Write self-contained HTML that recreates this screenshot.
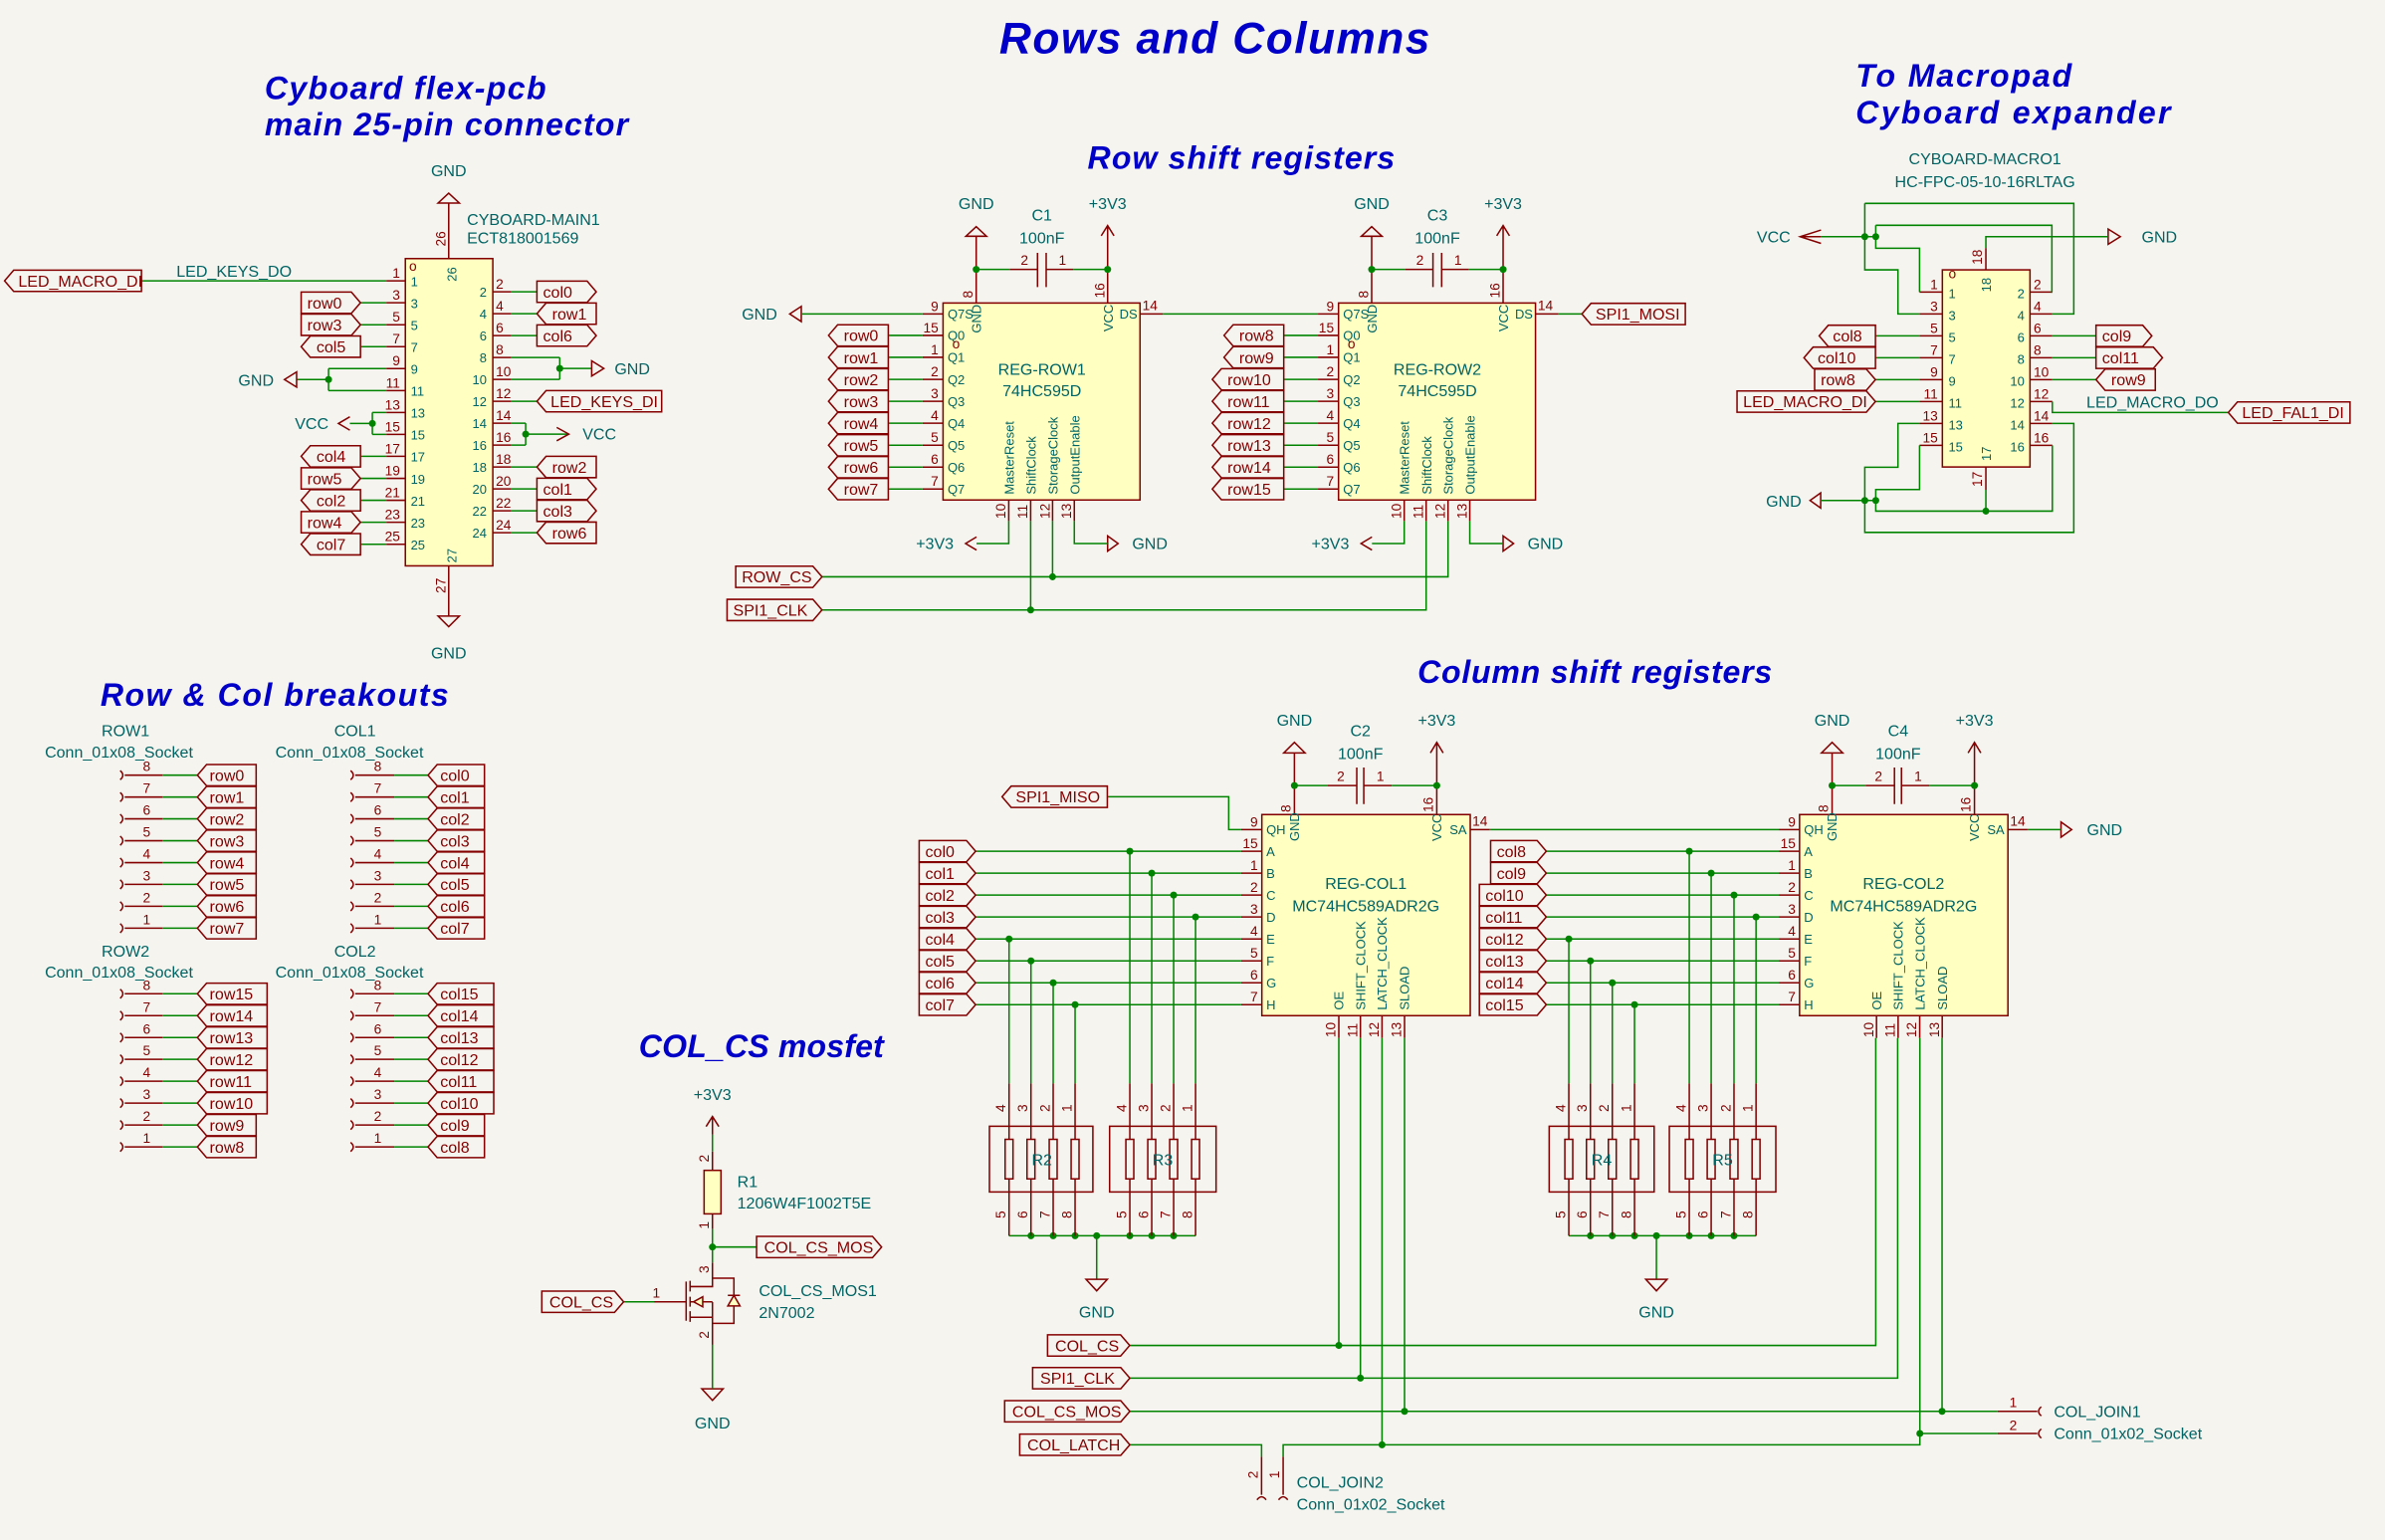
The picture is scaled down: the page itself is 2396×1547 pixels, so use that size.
<!DOCTYPE html>
<html><head><meta charset="utf-8"><style>
html,body{margin:0;padding:0;background:#f5f4ef;}
svg{display:block}
.r{stroke:#840000;fill:none;stroke-width:1}
.w{stroke:#008400;fill:none;stroke-width:1}
.b{fill:#ffffc2;stroke:#840000;stroke-width:1}
.f polygon{fill:none;stroke:#840000;stroke-width:1}
.f text{fill:#840000;font-size:10.5px}
.j{fill:#008400}
text{font-family:"Liberation Sans",sans-serif}
.t{fill:#006464;font-size:10.5px}
.n{fill:#840000;font-size:9px}
.p{fill:#006464;font-size:8.5px}
.h{fill:#0000c8;font-weight:bold;font-style:italic}
</style></head><body>
<svg width="2396" height="1547" viewBox="0 0 1568 1012.4" preserveAspectRatio="none" xmlns="http://www.w3.org/2000/svg">
<rect x="0" y="0" width="1568" height="1013" fill="#f5f4ef"/>

<!-- Titles -->
<text class="h" x="657" y="35" font-size="29" textLength="283">Rows and Columns</text>
<text class="h" x="174" y="65" font-size="21" textLength="185">Cyboard flex-pcb</text>
<text class="h" x="174" y="89" font-size="21" textLength="239">main 25-pin connector</text>
<text class="h" x="715" y="111" font-size="21" textLength="202">Row shift registers</text>
<text class="h" x="1220" y="57" font-size="21" textLength="142">To Macropad</text>
<text class="h" x="1220" y="81" font-size="21" textLength="207">Cyboard expander</text>
<text class="h" x="66" y="464" font-size="21" textLength="229">Row &amp; Col breakouts</text>
<text class="h" x="420" y="695" font-size="21" textLength="161">COL_CS mosfet</text>
<text class="h" x="932" y="449" font-size="21" textLength="233">Column shift registers</text>

<!-- ===== Main connector ===== -->
<rect class="b" x="266.5" y="170" width="57.5" height="202"/>
<text class="t" x="307" y="148">CYBOARD-MAIN1</text>
<text class="t" x="307" y="160">ECT818001569</text>
<text class="n" x="269" y="178" font-size="7">o</text>
<path class="r" d="M288,133.5 H302 L295,127 Z M295,133.5 V170"/>
<text class="t" x="295" y="116" text-anchor="middle">GND</text>
<text class="n" transform="rotate(-90 293 162)" x="293" y="162">26</text>
<text class="p" transform="rotate(-90 300 185)" x="300" y="185">26</text>
<path class="r" d="M295,372 V405 M288,405 H302 L295,412 Z"/>
<text class="t" x="295" y="433" text-anchor="middle">GND</text>
<text class="n" transform="rotate(-90 293 390)" x="293" y="390">27</text>
<text class="p" transform="rotate(-90 300 370)" x="300" y="370">27</text>
<!-- left pins -->
<path class="r" d="M254,184.6H266.5M254,199H266.5M254,213.5H266.5M254,227.9H266.5M254,242.3H266.5M254,256.8H266.5M254,271.2H266.5M254,285.6H266.5M254,300H266.5M254,314.5H266.5M254,328.9H266.5M254,343.3H266.5M254,357.8H266.5"/>
<g class="n" text-anchor="end"><text x="263" y="182.6">1</text><text x="263" y="197">3</text><text x="263" y="211.5">5</text><text x="263" y="225.9">7</text><text x="263" y="240.3">9</text><text x="263" y="254.8">11</text><text x="263" y="269.2">13</text><text x="263" y="283.6">15</text><text x="263" y="298">17</text><text x="263" y="312.5">19</text><text x="263" y="326.9">21</text><text x="263" y="341.3">23</text><text x="263" y="355.8">25</text></g>
<g class="p"><text x="270" y="188">1</text><text x="270" y="202.4">3</text><text x="270" y="216.9">5</text><text x="270" y="231.3">7</text><text x="270" y="245.7">9</text><text x="270" y="260.2">11</text><text x="270" y="274.6">13</text><text x="270" y="289">15</text><text x="270" y="303.4">17</text><text x="270" y="317.9">19</text><text x="270" y="332.3">21</text><text x="270" y="346.7">23</text><text x="270" y="361.2">25</text></g>
<!-- right pins -->
<path class="r" d="M324,191.8H336M324,206.2H336M324,220.6H336M324,235H336M324,249.4H336M324,263.8H336M324,278.2H336M324,292.6H336M324,307H336M324,321.4H336M324,335.8H336M324,350.2H336"/>
<g class="n"><text x="326" y="189.8">2</text><text x="326" y="204.2">4</text><text x="326" y="218.6">6</text><text x="326" y="233">8</text><text x="326" y="247.4">10</text><text x="326" y="261.8">12</text><text x="326" y="276.2">14</text><text x="326" y="290.6">16</text><text x="326" y="305">18</text><text x="326" y="319.4">20</text><text x="326" y="333.8">22</text><text x="326" y="348.2">24</text></g>
<g class="p" text-anchor="end"><text x="320" y="195">2</text><text x="320" y="209.4">4</text><text x="320" y="223.8">6</text><text x="320" y="238.2">8</text><text x="320" y="252.6">10</text><text x="320" y="267">12</text><text x="320" y="281.4">14</text><text x="320" y="295.8">16</text><text x="320" y="310.2">18</text><text x="320" y="324.6">20</text><text x="320" y="339">22</text><text x="320" y="353.4">24</text></g>
<!-- wires main -->
<path class="w" d="M93,184.6H254M237,199H254M237,213.5H254M237,227.9H254M216,242.3H254M216,256.8H254M216,242.3V256.8M195,249.5H216M244.8,271.2H254M244.8,285.6H254M244.8,271.2V285.6M230,278.4H244.8M237,300H254M237,314.5H254M237,328.9H254M237,343.3H254M237,357.8H254
M336,191.8H353M336,206.2H353M336,220.6H353M336,235H368M336,249.4H368M368,235V249.4M368,242.2H389M336,263.8H353M336,278.2H345.6M336,292.6H345.6M345.6,278.2V292.6M345.6,285.4H374M336,307H353M336,321.4H353M336,335.8H353M336,350.2H353"/>
<circle class="j" cx="216" cy="249.5" r="2.3"/><circle class="j" cx="244.8" cy="278.4" r="2.3"/><circle class="j" cx="368" cy="242.2" r="2.3"/><circle class="j" cx="345.6" cy="285.4" r="2.3"/>
<path class="r" d="M187,249.5 L195,244.5 V254.5 Z M230,274 L222.5,278.4 L230,282.8 M397,242.2 L389,237.2 V247.2 Z M366,281 L374,285.4 L366,289.8"/>
<text class="t" x="180" y="253.5" text-anchor="end">GND</text>
<text class="t" x="216" y="282" text-anchor="end">VCC</text>
<text class="t" x="404" y="246">GND</text>
<text class="t" x="383" y="289">VCC</text>
<text class="t" x="116" y="182">LED_KEYS_DO</text>
<g class="f">
<g transform="translate(3,184.6)"><polygon points="0,0 6,-7 90,-7 90,7 6,7"/><text x="9" y="3.8">LED_MACRO_DI</text></g>
<g transform="translate(198,199)"><polygon points="0,-7 33,-7 39,0 33,7 0,7"/><text x="4" y="3.8">row0</text></g>
<g transform="translate(198,213.5)"><polygon points="0,-7 33,-7 39,0 33,7 0,7"/><text x="4" y="3.8">row3</text></g>
<g transform="translate(198,227.9)"><polygon points="0,0 6,-7 39,-7 39,7 6,7"/><text x="10" y="3.8">col5</text></g>
<g transform="translate(198,300)"><polygon points="0,0 6,-7 39,-7 39,7 6,7"/><text x="10" y="3.8">col4</text></g>
<g transform="translate(198,314.5)"><polygon points="0,-7 33,-7 39,0 33,7 0,7"/><text x="4" y="3.8">row5</text></g>
<g transform="translate(198,328.9)"><polygon points="0,0 6,-7 39,-7 39,7 6,7"/><text x="10" y="3.8">col2</text></g>
<g transform="translate(198,343.3)"><polygon points="0,-7 33,-7 39,0 33,7 0,7"/><text x="4" y="3.8">row4</text></g>
<g transform="translate(198,357.8)"><polygon points="0,0 6,-7 39,-7 39,7 6,7"/><text x="10" y="3.8">col7</text></g>
<g transform="translate(353,191.8)"><polygon points="0,-7 33,-7 39,0 33,7 0,7"/><text x="4" y="3.8">col0</text></g>
<g transform="translate(353,206.2)"><polygon points="0,0 6,-7 39,-7 39,7 6,7"/><text x="10" y="3.8">row1</text></g>
<g transform="translate(353,220.6)"><polygon points="0,-7 33,-7 39,0 33,7 0,7"/><text x="4" y="3.8">col6</text></g>
<g transform="translate(353,263.8)"><polygon points="0,0 6,-7 82,-7 82,7 6,7"/><text x="9" y="3.8">LED_KEYS_DI</text></g>
<g transform="translate(353,307)"><polygon points="0,0 6,-7 39,-7 39,7 6,7"/><text x="10" y="3.8">row2</text></g>
<g transform="translate(353,321.4)"><polygon points="0,-7 33,-7 39,0 33,7 0,7"/><text x="4" y="3.8">col1</text></g>
<g transform="translate(353,335.8)"><polygon points="0,-7 33,-7 39,0 33,7 0,7"/><text x="4" y="3.8">col3</text></g>
<g transform="translate(353,350.2)"><polygon points="0,0 6,-7 39,-7 39,7 6,7"/><text x="10" y="3.8">row6</text></g>
</g>

<!-- ===== Row registers ===== -->
<g id="row1">
<rect class="b" x="620" y="199.2" width="129.5" height="129.5"/>
<path class="r" d="M606.5,206.4H620M606.5,220.5H620M606.5,234.9H620M606.5,249.4H620M606.5,263.8H620M606.5,278.2H620M606.5,292.7H620M606.5,307.1H620M606.5,321.5H620
M635,155.3H648.6L641.8,149Z M641.8,155.3V199.2 M724,155L728.2,148.3L732.4,155 M728.2,148.3V199.2 M663.8,177.1H682.1M682.1,166.2V188.7M687.8,166.2V188.7M687.8,177.1H705.7 M749.5,206.4H764.6
M663.2,328.7V342.5M677.6,328.7V342.5M692,328.7V342.5M706.3,328.7V342.5 M642,353L634.8,357.3L642,361.6 M728.2,352.3V362.3L735.1,357.3Z"/>
<path class="w" d="M641.8,177.1H663.8M705.7,177.1H728.2M663.2,342.5V357.3H642M706.3,342.5V357.3H728.2"/>
<circle class="j" cx="641.8" cy="177.1" r="2.3"/><circle class="j" cx="728.2" cy="177.1" r="2.3"/>
<g class="n" text-anchor="end"><text x="617" y="204.4">9</text><text x="617" y="218.5">15</text><text x="617" y="232.9">1</text><text x="617" y="247.4">2</text><text x="617" y="261.8">3</text><text x="617" y="276.2">4</text><text x="617" y="290.7">5</text><text x="617" y="305.1">6</text><text x="617" y="319.5">7</text></g>
<g class="p"><text x="623" y="209.5">Q7S</text><text x="623" y="223.6">Q0</text><text x="623" y="238">Q1</text><text x="623" y="252.5">Q2</text><text x="623" y="266.9">Q3</text><text x="623" y="281.3">Q4</text><text x="623" y="295.8">Q5</text><text x="623" y="310.2">Q6</text><text x="623" y="324.6">Q7</text>
<text x="736" y="209.5">DS</text>
<text transform="rotate(-90 645 219)" x="645" y="219">GND</text>
<text transform="rotate(-90 731.5 218)" x="731.5" y="218">VCC</text>
<text transform="rotate(-90 666.5 325)" x="666.5" y="325">MasterReset</text>
<text transform="rotate(-90 681 325)" x="681" y="325">ShiftClock</text>
<text transform="rotate(-90 695.3 325)" x="695.3" y="325">StorageClock</text>
<text transform="rotate(-90 709.6 325)" x="709.6" y="325">OutputEnable</text></g>
<text class="n" x="626" y="229" font-size="7">o</text>
<g class="n"><text transform="rotate(-90 639.5 196)" x="639.5" y="196">8</text><text transform="rotate(-90 726 196)" x="726" y="196">16</text><text x="751" y="204">14</text><text x="671" y="174">2</text><text x="696" y="174">1</text>
<text transform="rotate(-90 661 341)" x="661" y="341">10</text><text transform="rotate(-90 675.5 341)" x="675.5" y="341">11</text><text transform="rotate(-90 690 341)" x="690" y="341">12</text><text transform="rotate(-90 704.3 341)" x="704.3" y="341">13</text></g>
<text class="t" x="641.8" y="137.5" text-anchor="middle">GND</text>
<text class="t" x="728.2" y="137.5" text-anchor="middle">+3V3</text>
<text class="t" x="685" y="145" text-anchor="middle">C1</text>
<text class="t" x="685" y="160" text-anchor="middle">100nF</text>
<text class="t" x="685" y="246.5" text-anchor="middle">REG-ROW1</text>
<text class="t" x="685" y="260.5" text-anchor="middle">74HC595D</text>
<text class="t" x="627" y="361" text-anchor="end">+3V3</text>
<text class="t" x="744.3" y="361">GND</text>
</g>
<!-- row1 specific -->
<path class="r" d="M519.2,206.4L526.8,201.4V211.4Z"/>
<text class="t" x="511" y="210" text-anchor="end">GND</text>
<path class="w" d="M526.8,206.4H606.5M584,220.5H606.5M584,234.9H606.5M584,249.4H606.5M584,263.8H606.5M584,278.2H606.5M584,292.7H606.5M584,307.1H606.5M584,321.5H606.5
M764.6,206.4H866.5M844,220.5H866.5M844,234.9H866.5M844,249.4H866.5M844,263.8H866.5M844,278.2H866.5M844,292.7H866.5M844,307.1H866.5M844,321.5H866.5
M1024.6,206.4H1040 M540.4,379.2H952V342.5 M540.4,401H937.6V342.5 M692,342.5V379.2 M677.6,342.5V401"/>
<circle class="j" cx="692" cy="379.2" r="2.3"/><circle class="j" cx="677.6" cy="401" r="2.3"/>

<!-- row2 -->
<g transform="translate(260,0)">
<rect class="b" x="620" y="199.2" width="129.5" height="129.5"/>
<path class="r" d="M606.5,206.4H620M606.5,220.5H620M606.5,234.9H620M606.5,249.4H620M606.5,263.8H620M606.5,278.2H620M606.5,292.7H620M606.5,307.1H620M606.5,321.5H620
M635,155.3H648.6L641.8,149Z M641.8,155.3V199.2 M724,155L728.2,148.3L732.4,155 M728.2,148.3V199.2 M663.8,177.1H682.1M682.1,166.2V188.7M687.8,166.2V188.7M687.8,177.1H705.7 M749.5,206.4H764.6
M663.2,328.7V342.5M677.6,328.7V342.5M692,328.7V342.5M706.3,328.7V342.5 M642,353L634.8,357.3L642,361.6 M728.2,352.3V362.3L735.1,357.3Z"/>
<path class="w" d="M641.8,177.1H663.8M705.7,177.1H728.2M663.2,342.5V357.3H642M706.3,342.5V357.3H728.2"/>
<circle class="j" cx="641.8" cy="177.1" r="2.3"/><circle class="j" cx="728.2" cy="177.1" r="2.3"/>
<g class="n" text-anchor="end"><text x="617" y="204.4">9</text><text x="617" y="218.5">15</text><text x="617" y="232.9">1</text><text x="617" y="247.4">2</text><text x="617" y="261.8">3</text><text x="617" y="276.2">4</text><text x="617" y="290.7">5</text><text x="617" y="305.1">6</text><text x="617" y="319.5">7</text></g>
<g class="p"><text x="623" y="209.5">Q7S</text><text x="623" y="223.6">Q0</text><text x="623" y="238">Q1</text><text x="623" y="252.5">Q2</text><text x="623" y="266.9">Q3</text><text x="623" y="281.3">Q4</text><text x="623" y="295.8">Q5</text><text x="623" y="310.2">Q6</text><text x="623" y="324.6">Q7</text>
<text x="736" y="209.5">DS</text>
<text transform="rotate(-90 645 219)" x="645" y="219">GND</text>
<text transform="rotate(-90 731.5 218)" x="731.5" y="218">VCC</text>
<text transform="rotate(-90 666.5 325)" x="666.5" y="325">MasterReset</text>
<text transform="rotate(-90 681 325)" x="681" y="325">ShiftClock</text>
<text transform="rotate(-90 695.3 325)" x="695.3" y="325">StorageClock</text>
<text transform="rotate(-90 709.6 325)" x="709.6" y="325">OutputEnable</text></g>
<text class="n" x="626" y="229" font-size="7">o</text>
<g class="n"><text transform="rotate(-90 639.5 196)" x="639.5" y="196">8</text><text transform="rotate(-90 726 196)" x="726" y="196">16</text><text x="751" y="204">14</text><text x="671" y="174">2</text><text x="696" y="174">1</text>
<text transform="rotate(-90 661 341)" x="661" y="341">10</text><text transform="rotate(-90 675.5 341)" x="675.5" y="341">11</text><text transform="rotate(-90 690 341)" x="690" y="341">12</text><text transform="rotate(-90 704.3 341)" x="704.3" y="341">13</text></g>
<text class="t" x="641.8" y="137.5" text-anchor="middle">GND</text>
<text class="t" x="728.2" y="137.5" text-anchor="middle">+3V3</text>
<text class="t" x="685" y="145" text-anchor="middle">C3</text>
<text class="t" x="685" y="160" text-anchor="middle">100nF</text>
<text class="t" x="685" y="246.5" text-anchor="middle">REG-ROW2</text>
<text class="t" x="685" y="260.5" text-anchor="middle">74HC595D</text>
<text class="t" x="627" y="361" text-anchor="end">+3V3</text>
<text class="t" x="744.3" y="361">GND</text>
</g>
<g class="f">
<g transform="translate(544.7,220.5)"><polygon points="0,0 6,-7 39.3,-7 39.3,7 6,7"/><text x="10" y="3.8">row0</text></g>
<g transform="translate(544.7,234.9)"><polygon points="0,0 6,-7 39.3,-7 39.3,7 6,7"/><text x="10" y="3.8">row1</text></g>
<g transform="translate(544.7,249.4)"><polygon points="0,0 6,-7 39.3,-7 39.3,7 6,7"/><text x="10" y="3.8">row2</text></g>
<g transform="translate(544.7,263.8)"><polygon points="0,0 6,-7 39.3,-7 39.3,7 6,7"/><text x="10" y="3.8">row3</text></g>
<g transform="translate(544.7,278.2)"><polygon points="0,0 6,-7 39.3,-7 39.3,7 6,7"/><text x="10" y="3.8">row4</text></g>
<g transform="translate(544.7,292.7)"><polygon points="0,0 6,-7 39.3,-7 39.3,7 6,7"/><text x="10" y="3.8">row5</text></g>
<g transform="translate(544.7,307.1)"><polygon points="0,0 6,-7 39.3,-7 39.3,7 6,7"/><text x="10" y="3.8">row6</text></g>
<g transform="translate(544.7,321.5)"><polygon points="0,0 6,-7 39.3,-7 39.3,7 6,7"/><text x="10" y="3.8">row7</text></g>
<g transform="translate(804.7,220.5)"><polygon points="0,0 6,-7 39.3,-7 39.3,7 6,7"/><text x="10" y="3.8">row8</text></g>
<g transform="translate(804.7,234.9)"><polygon points="0,0 6,-7 39.3,-7 39.3,7 6,7"/><text x="10" y="3.8">row9</text></g>
<g transform="translate(797,249.4)"><polygon points="0,0 6,-7 47,-7 47,7 6,7"/><text x="10" y="3.8">row10</text></g>
<g transform="translate(797,263.8)"><polygon points="0,0 6,-7 47,-7 47,7 6,7"/><text x="10" y="3.8">row11</text></g>
<g transform="translate(797,278.2)"><polygon points="0,0 6,-7 47,-7 47,7 6,7"/><text x="10" y="3.8">row12</text></g>
<g transform="translate(797,292.7)"><polygon points="0,0 6,-7 47,-7 47,7 6,7"/><text x="10" y="3.8">row13</text></g>
<g transform="translate(797,307.1)"><polygon points="0,0 6,-7 47,-7 47,7 6,7"/><text x="10" y="3.8">row14</text></g>
<g transform="translate(797,321.5)"><polygon points="0,0 6,-7 47,-7 47,7 6,7"/><text x="10" y="3.8">row15</text></g>
<g transform="translate(1040,206.4)"><polygon points="0,0 6,-7 68,-7 68,7 6,7"/><text x="9" y="3.8">SPI1_MOSI</text></g>
<g transform="translate(483.7,379.2)"><polygon points="0,-7 50.7,-7 56.7,0 50.7,7 0,7"/><text x="4" y="3.8">ROW_CS</text></g>
<g transform="translate(478,401)"><polygon points="0,-7 56.4,-7 62.4,0 56.4,7 0,7"/><text x="4" y="3.8">SPI1_CLK</text></g>
</g>

<!-- ===== Macro connector ===== -->
<rect class="b" x="1277" y="177.4" width="57.6" height="129.6"/>
<text class="t" x="1305" y="108" text-anchor="middle">CYBOARD-MACRO1</text>
<text class="t" x="1305" y="123" text-anchor="middle">HC-FPC-05-10-16RLTAG</text>
<path class="r" d="M1262,192H1277M1262,206.4H1277M1262,220.8H1277M1262,235.2H1277M1262,249.6H1277M1262,264H1277M1262,278.4H1277M1262,292.8H1277
M1334.6,192H1349.3M1334.6,206.4H1349.3M1334.6,220.8H1349.3M1334.6,235.2H1349.3M1334.6,249.6H1349.3M1334.6,264H1349.3M1334.6,278.4H1349.3M1334.6,292.8H1349.3
M1305.6,163V177.4M1305.6,307V322 M1197.2,151.2L1183.5,155.6L1197.2,160 M1183.5,155.6H1197.2 M1386,150.6V160.6L1394,155.6Z M1190,329L1197,324V334Z"/>
<path class="w" d="M1197.2,155.6H1233.2 M1226,133.7H1363.4V206.4H1349.3 M1226,133.7V177.4H1247.8V206.4H1262 M1233.2,148.1H1349V192H1349.3 M1233.2,148.1V163.2H1262V192
M1305.6,163V155.6H1386 M1233,220.8H1262M1233,235.2H1262M1233,249.6H1262M1233,264H1262M1349.3,220.8H1378M1349.3,235.2H1378M1349.3,249.6H1378M1349.3,264V271.2H1465
M1197,329H1233.2 M1226,329V307.2H1247.8V278.4H1262 M1233.2,329V321.8H1262V292.8 M1233.2,329V336H1349.3V292.8 M1305.6,322V336 M1226,329V350H1363.4V278.4H1349.3"/>
<circle class="j" cx="1226" cy="155.6" r="2.3"/><circle class="j" cx="1233.2" cy="155.6" r="2.3"/><circle class="j" cx="1226" cy="329" r="2.3"/><circle class="j" cx="1233.2" cy="329" r="2.3"/><circle class="j" cx="1305.6" cy="336" r="2.3"/>
<text class="t" x="1155" y="159.5">VCC</text>
<text class="t" x="1408" y="159.5">GND</text>
<text class="t" x="1161" y="333">GND</text>
<text class="t" x="1371.7" y="268">LED_MACRO_DO</text>
<g class="n" text-anchor="end"><text x="1274" y="190">1</text><text x="1274" y="204.4">3</text><text x="1274" y="218.8">5</text><text x="1274" y="233.2">7</text><text x="1274" y="247.6">9</text><text x="1274" y="262">11</text><text x="1274" y="276.4">13</text><text x="1274" y="290.8">15</text></g>
<g class="n"><text x="1337" y="190">2</text><text x="1337" y="204.4">4</text><text x="1337" y="218.8">6</text><text x="1337" y="233.2">8</text><text x="1337" y="247.6">10</text><text x="1337" y="262">12</text><text x="1337" y="276.4">14</text><text x="1337" y="290.8">16</text>
<text transform="rotate(-90 1303 174)" x="1303" y="174">18</text><text transform="rotate(-90 1303 320)" x="1303" y="320">17</text></g>
<g class="p"><text x="1281" y="196">1</text><text x="1281" y="210.4">3</text><text x="1281" y="224.8">5</text><text x="1281" y="239.2">7</text><text x="1281" y="253.6">9</text><text x="1281" y="268">11</text><text x="1281" y="282.4">13</text><text x="1281" y="296.8">15</text>
<text transform="rotate(-90 1309 192)" x="1309" y="192">18</text><text transform="rotate(-90 1309 303)" x="1309" y="303">17</text></g>
<g class="p" text-anchor="end"><text x="1331" y="196">2</text><text x="1331" y="210.4">4</text><text x="1331" y="224.8">6</text><text x="1331" y="239.2">8</text><text x="1331" y="253.6">10</text><text x="1331" y="268">12</text><text x="1331" y="282.4">14</text><text x="1331" y="296.8">16</text></g>
<text class="n" x="1281" y="183" font-size="7">o</text>
<g class="f">
<g transform="translate(1196,220.8)"><polygon points="0,0 6,-7 37,-7 37,7 6,7"/><text x="9" y="3.8">col8</text></g>
<g transform="translate(1186,235.2)"><polygon points="0,0 6,-7 47,-7 47,7 6,7"/><text x="9" y="3.8">col10</text></g>
<g transform="translate(1193,249.6)"><polygon points="0,-7 34,-7 40,0 34,7 0,7"/><text x="4" y="3.8">row8</text></g>
<g transform="translate(1142,264)"><polygon points="0,-7 85,-7 91,0 85,7 0,7"/><text x="4" y="3.8">LED_MACRO_DI</text></g>
<g transform="translate(1378,220.8)"><polygon points="0,-7 30.7,-7 36.7,0 30.7,7 0,7"/><text x="4" y="3.8">col9</text></g>
<g transform="translate(1378,235.2)"><polygon points="0,-7 37.7,-7 43.7,0 37.7,7 0,7"/><text x="4" y="3.8">col11</text></g>
<g transform="translate(1378,249.6)"><polygon points="0,0 6,-7 39,-7 39,7 6,7"/><text x="10" y="3.8">row9</text></g>
<g transform="translate(1465,271.2)"><polygon points="0,0 6,-7 80,-7 80,7 6,7"/><text x="9" y="3.8">LED_FAL1_DI</text></g>
</g>

<!-- ===== Column registers ===== -->
<g id="col1">
<rect class="b" x="829.6" y="535.5" width="137" height="132.2"/>
<path class="r" d="M816,545.4H829.6M816,559.6H829.6M816,574H829.6M816,588.4H829.6M816,602.8H829.6M816,617.3H829.6M816,631.7H829.6M816,646.1H829.6M816,660.5H829.6
M844,495H858L851,488Z M851,495V535.5 M940.4,495L944.6,488L948.8,495 M944.6,488V535.5 M873,516.4H892M892,504.6V528.6M896.6,504.6V528.6M896.6,516.4H915 M966.6,545.4H979.5
M880.2,667.7V682.4M894.4,667.7V682.4M908.6,667.7V682.4M923.4,667.7V682.4"/>
<path class="w" d="M851,516.4H873M915,516.4H944.6"/>
<circle class="j" cx="851" cy="516.4" r="2.3"/><circle class="j" cx="944.6" cy="516.4" r="2.3"/>
<g class="n" text-anchor="end"><text x="827" y="543.4">9</text><text x="827" y="557.6">15</text><text x="827" y="572">1</text><text x="827" y="586.4">2</text><text x="827" y="600.8">3</text><text x="827" y="615.3">4</text><text x="827" y="629.7">5</text><text x="827" y="644.1">6</text><text x="827" y="658.5">7</text></g>
<g class="p"><text x="832.5" y="548.5">QH</text><text x="832.5" y="562.7">A</text><text x="832.5" y="577.1">B</text><text x="832.5" y="591.5">C</text><text x="832.5" y="605.9">D</text><text x="832.5" y="620.4">E</text><text x="832.5" y="634.8">F</text><text x="832.5" y="649.2">G</text><text x="832.5" y="663.6">H</text>
<text x="953" y="548.5">SA</text>
<text transform="rotate(-90 854 553)" x="854" y="553">GND</text>
<text transform="rotate(-90 947.5 553)" x="947.5" y="553">VCC</text>
<text transform="rotate(-90 883.3 664)" x="883.3" y="664">OE</text>
<text transform="rotate(-90 897.5 664)" x="897.5" y="664">SHIFT_CLOCK</text>
<text transform="rotate(-90 911.7 664)" x="911.7" y="664">LATCH_CLOCK</text>
<text transform="rotate(-90 926.5 664)" x="926.5" y="664">SLOAD</text></g>
<g class="n"><text transform="rotate(-90 848.5 534)" x="848.5" y="534">8</text><text transform="rotate(-90 942 534)" x="942" y="534">16</text><text x="968" y="543">14</text><text x="879" y="513.5">2</text><text x="905" y="513.5">1</text>
<text transform="rotate(-90 878 682)" x="878" y="682">10</text><text transform="rotate(-90 892.2 682)" x="892.2" y="682">11</text><text transform="rotate(-90 906.4 682)" x="906.4" y="682">12</text><text transform="rotate(-90 921.2 682)" x="921.2" y="682">13</text></g>
<text class="t" x="851" y="477" text-anchor="middle">GND</text>
<text class="t" x="944.6" y="477" text-anchor="middle">+3V3</text>
<text class="t" x="894.4" y="484" text-anchor="middle">C2</text>
<text class="t" x="894.4" y="499" text-anchor="middle">100nF</text>
<text class="t" x="898" y="584.5" text-anchor="middle">REG-COL1</text>
<text class="t" x="898" y="599" text-anchor="middle">MC74HC589ADR2G</text>
</g>
<g transform="translate(353.5,0)">
<rect class="b" x="829.6" y="535.5" width="137" height="132.2"/>
<path class="r" d="M816,545.4H829.6M816,559.6H829.6M816,574H829.6M816,588.4H829.6M816,602.8H829.6M816,617.3H829.6M816,631.7H829.6M816,646.1H829.6M816,660.5H829.6
M844,495H858L851,488Z M851,495V535.5 M940.4,495L944.6,488L948.8,495 M944.6,488V535.5 M873,516.4H892M892,504.6V528.6M896.6,504.6V528.6M896.6,516.4H915 M966.6,545.4H979.5
M880.2,667.7V682.4M894.4,667.7V682.4M908.6,667.7V682.4M923.4,667.7V682.4 M1001.5,540.4V550.4L1008.5,545.4Z"/>
<path class="w" d="M851,516.4H873M915,516.4H944.6M979.5,545.4H1001.5"/>
<circle class="j" cx="851" cy="516.4" r="2.3"/><circle class="j" cx="944.6" cy="516.4" r="2.3"/>
<g class="n" text-anchor="end"><text x="827" y="543.4">9</text><text x="827" y="557.6">15</text><text x="827" y="572">1</text><text x="827" y="586.4">2</text><text x="827" y="600.8">3</text><text x="827" y="615.3">4</text><text x="827" y="629.7">5</text><text x="827" y="644.1">6</text><text x="827" y="658.5">7</text></g>
<g class="p"><text x="832.5" y="548.5">QH</text><text x="832.5" y="562.7">A</text><text x="832.5" y="577.1">B</text><text x="832.5" y="591.5">C</text><text x="832.5" y="605.9">D</text><text x="832.5" y="620.4">E</text><text x="832.5" y="634.8">F</text><text x="832.5" y="649.2">G</text><text x="832.5" y="663.6">H</text>
<text x="953" y="548.5">SA</text>
<text transform="rotate(-90 854 553)" x="854" y="553">GND</text>
<text transform="rotate(-90 947.5 553)" x="947.5" y="553">VCC</text>
<text transform="rotate(-90 883.3 664)" x="883.3" y="664">OE</text>
<text transform="rotate(-90 897.5 664)" x="897.5" y="664">SHIFT_CLOCK</text>
<text transform="rotate(-90 911.7 664)" x="911.7" y="664">LATCH_CLOCK</text>
<text transform="rotate(-90 926.5 664)" x="926.5" y="664">SLOAD</text></g>
<g class="n"><text transform="rotate(-90 848.5 534)" x="848.5" y="534">8</text><text transform="rotate(-90 942 534)" x="942" y="534">16</text><text x="968" y="543">14</text><text x="879" y="513.5">2</text><text x="905" y="513.5">1</text>
<text transform="rotate(-90 878 682)" x="878" y="682">10</text><text transform="rotate(-90 892.2 682)" x="892.2" y="682">11</text><text transform="rotate(-90 906.4 682)" x="906.4" y="682">12</text><text transform="rotate(-90 921.2 682)" x="921.2" y="682">13</text></g>
<text class="t" x="851" y="477" text-anchor="middle">GND</text>
<text class="t" x="944.6" y="477" text-anchor="middle">+3V3</text>
<text class="t" x="894.4" y="484" text-anchor="middle">C4</text>
<text class="t" x="894.4" y="499" text-anchor="middle">100nF</text>
<text class="t" x="898" y="584.5" text-anchor="middle">REG-COL2</text>
<text class="t" x="898" y="599" text-anchor="middle">MC74HC589ADR2G</text>
<text class="t" x="1018.5" y="549">GND</text>
</g>
<!-- column wiring -->
<path class="w" d="M728,523.8H807.8V545.4H816 M979.5,545.4H1169.5
M641.4,559.6H816M641.4,574H816M641.4,588.4H816M641.4,602.8H816M641.4,617.3H816M641.4,631.7H816M641.4,646.1H816M641.4,660.5H816
M1016.6,559.6H1169.5M1016.6,574H1169.5M1016.6,588.4H1169.5M1016.6,602.8H1169.5M1016.6,617.3H1169.5M1016.6,631.7H1169.5M1016.6,646.1H1169.5M1016.6,660.5H1169.5
M742.8,559.6V712.3M757.2,574V712.3M771.6,588.4V712.3M786,602.8V712.3M663.4,617.3V712.3M677.8,631.7V712.3M692.4,646.1V712.3M706.8,660.5V712.3
M1110.6,559.6V712.3M1125,574V712.3M1140,588.4V712.3M1154.5,602.8V712.3M1031.4,617.3V712.3M1045.6,631.7V712.3M1060,646.1V712.3M1074.6,660.5V712.3
M663.4,812.4H786M721,812.4V841 M1031.4,812.4H1154.5M1089,812.4V841
M742.8,884.5H1233.2V682.4 M742.8,906H1247.6V682.4 M742.8,927.8H1313.3 M1276.8,682.4V927.8 M742.8,949.8H829.4V957.7 M843.6,957.7V949.8H1262.2V682.4 M1262.2,942.4H1313.3
M880.2,682.4V884.5 M894.4,682.4V906 M908.6,682.4V949.8 M923.4,682.4V927.8"/>
<g class="j">
<circle cx="742.8" cy="559.6" r="2.3"/><circle cx="757.2" cy="574" r="2.3"/><circle cx="771.6" cy="588.4" r="2.3"/><circle cx="786" cy="602.8" r="2.3"/><circle cx="663.4" cy="617.3" r="2.3"/><circle cx="677.8" cy="631.7" r="2.3"/><circle cx="692.4" cy="646.1" r="2.3"/><circle cx="706.8" cy="660.5" r="2.3"/>
<circle cx="1110.6" cy="559.6" r="2.3"/><circle cx="1125" cy="574" r="2.3"/><circle cx="1140" cy="588.4" r="2.3"/><circle cx="1154.5" cy="602.8" r="2.3"/><circle cx="1031.4" cy="617.3" r="2.3"/><circle cx="1045.6" cy="631.7" r="2.3"/><circle cx="1060" cy="646.1" r="2.3"/><circle cx="1074.6" cy="660.5" r="2.3"/>
<circle cx="677.8" cy="812.4" r="2.3"/><circle cx="692.4" cy="812.4" r="2.3"/><circle cx="706.8" cy="812.4" r="2.3"/><circle cx="721" cy="812.4" r="2.3"/><circle cx="742.8" cy="812.4" r="2.3"/><circle cx="757.2" cy="812.4" r="2.3"/><circle cx="771.6" cy="812.4" r="2.3"/>
<circle cx="1045.6" cy="812.4" r="2.3"/><circle cx="1060" cy="812.4" r="2.3"/><circle cx="1074.6" cy="812.4" r="2.3"/><circle cx="1089" cy="812.4" r="2.3"/><circle cx="1110.6" cy="812.4" r="2.3"/><circle cx="1125" cy="812.4" r="2.3"/><circle cx="1140" cy="812.4" r="2.3"/>
<circle cx="880.2" cy="884.5" r="2.3"/><circle cx="894.4" cy="906" r="2.3"/><circle cx="923.4" cy="927.8" r="2.3"/><circle cx="908.6" cy="949.8" r="2.3"/><circle cx="1276.8" cy="927.8" r="2.3"/><circle cx="1262.2" cy="942.4" r="2.3"/>
</g>
<!-- resistor networks -->
<g class="r">
<rect x="650.5" y="740.4" width="68" height="43.2"/><rect x="729.5" y="740.4" width="70" height="43.2"/>
<rect x="1018.5" y="740.4" width="69" height="43.2"/><rect x="1097.5" y="740.4" width="70" height="43.2"/>
<rect x="660.8" y="749" width="5.2" height="26"/><rect x="675.2" y="749" width="5.2" height="26"/><rect x="689.8" y="749" width="5.2" height="26"/><rect x="704.2" y="749" width="5.2" height="26"/>
<rect x="740.2" y="749" width="5.2" height="26"/><rect x="754.6" y="749" width="5.2" height="26"/><rect x="769" y="749" width="5.2" height="26"/><rect x="783.4" y="749" width="5.2" height="26"/>
<rect x="1028.8" y="749" width="5.2" height="26"/><rect x="1043" y="749" width="5.2" height="26"/><rect x="1057.4" y="749" width="5.2" height="26"/><rect x="1072" y="749" width="5.2" height="26"/>
<rect x="1108" y="749" width="5.2" height="26"/><rect x="1122.4" y="749" width="5.2" height="26"/><rect x="1137.4" y="749" width="5.2" height="26"/><rect x="1151.9" y="749" width="5.2" height="26"/>
<path d="M663.4,712.3V749M677.8,712.3V749M692.4,712.3V749M706.8,712.3V749M742.8,712.3V749M757.2,712.3V749M771.6,712.3V749M786,712.3V749
M1031.4,712.3V749M1045.6,712.3V749M1060,712.3V749M1074.6,712.3V749M1110.6,712.3V749M1125,712.3V749M1140,712.3V749M1154.5,712.3V749
M663.4,775V812.4M677.8,775V812.4M692.4,775V812.4M706.8,775V812.4M742.8,775V812.4M757.2,775V812.4M771.6,775V812.4M786,775V812.4
M1031.4,775V812.4M1045.6,775V812.4M1060,775V812.4M1074.6,775V812.4M1110.6,775V812.4M1125,775V812.4M1140,775V812.4M1154.5,775V812.4
M714,841H728L721,848.6Z M1082,841H1096L1089,848.6Z"/>
</g>
<g class="n">
<text transform="rotate(-90 661 731)" x="661" y="731">4</text><text transform="rotate(-90 675.4 731)" x="675.4" y="731">3</text><text transform="rotate(-90 690 731)" x="690" y="731">2</text><text transform="rotate(-90 704.4 731)" x="704.4" y="731">1</text>
<text transform="rotate(-90 740.4 731)" x="740.4" y="731">4</text><text transform="rotate(-90 754.8 731)" x="754.8" y="731">3</text><text transform="rotate(-90 769.2 731)" x="769.2" y="731">2</text><text transform="rotate(-90 783.6 731)" x="783.6" y="731">1</text>
<text transform="rotate(-90 1029 731)" x="1029" y="731">4</text><text transform="rotate(-90 1043.2 731)" x="1043.2" y="731">3</text><text transform="rotate(-90 1057.6 731)" x="1057.6" y="731">2</text><text transform="rotate(-90 1072.2 731)" x="1072.2" y="731">1</text>
<text transform="rotate(-90 1108.2 731)" x="1108.2" y="731">4</text><text transform="rotate(-90 1122.6 731)" x="1122.6" y="731">3</text><text transform="rotate(-90 1137.6 731)" x="1137.6" y="731">2</text><text transform="rotate(-90 1152.1 731)" x="1152.1" y="731">1</text>
<text transform="rotate(-90 661 801)" x="661" y="801">5</text><text transform="rotate(-90 675.4 801)" x="675.4" y="801">6</text><text transform="rotate(-90 690 801)" x="690" y="801">7</text><text transform="rotate(-90 704.4 801)" x="704.4" y="801">8</text>
<text transform="rotate(-90 740.4 801)" x="740.4" y="801">5</text><text transform="rotate(-90 754.8 801)" x="754.8" y="801">6</text><text transform="rotate(-90 769.2 801)" x="769.2" y="801">7</text><text transform="rotate(-90 783.6 801)" x="783.6" y="801">8</text>
<text transform="rotate(-90 1029 801)" x="1029" y="801">5</text><text transform="rotate(-90 1043.2 801)" x="1043.2" y="801">6</text><text transform="rotate(-90 1057.6 801)" x="1057.6" y="801">7</text><text transform="rotate(-90 1072.2 801)" x="1072.2" y="801">8</text>
<text transform="rotate(-90 1108.2 801)" x="1108.2" y="801">5</text><text transform="rotate(-90 1122.6 801)" x="1122.6" y="801">6</text><text transform="rotate(-90 1137.6 801)" x="1137.6" y="801">7</text><text transform="rotate(-90 1152.1 801)" x="1152.1" y="801">8</text>
</g>
<text class="t" x="685" y="766" text-anchor="middle">R2</text>
<text class="t" x="764.4" y="766" text-anchor="middle">R3</text>
<text class="t" x="1053" y="766" text-anchor="middle">R4</text>
<text class="t" x="1132.5" y="766" text-anchor="middle">R5</text>
<text class="t" x="721" y="866" text-anchor="middle">GND</text>
<text class="t" x="1089" y="866" text-anchor="middle">GND</text>
<g class="f">
<g transform="translate(658.8,523.8)"><polygon points="0,0 6,-7 69.2,-7 69.2,7 6,7"/><text x="9" y="3.8">SPI1_MISO</text></g>
<g transform="translate(604.3,559.6)"><polygon points="0,-7 31.1,-7 37.1,0 31.1,7 0,7"/><text x="4" y="3.8">col0</text></g>
<g transform="translate(604.3,574)"><polygon points="0,-7 31.1,-7 37.1,0 31.1,7 0,7"/><text x="4" y="3.8">col1</text></g>
<g transform="translate(604.3,588.4)"><polygon points="0,-7 31.1,-7 37.1,0 31.1,7 0,7"/><text x="4" y="3.8">col2</text></g>
<g transform="translate(604.3,602.8)"><polygon points="0,-7 31.1,-7 37.1,0 31.1,7 0,7"/><text x="4" y="3.8">col3</text></g>
<g transform="translate(604.3,617.3)"><polygon points="0,-7 31.1,-7 37.1,0 31.1,7 0,7"/><text x="4" y="3.8">col4</text></g>
<g transform="translate(604.3,631.7)"><polygon points="0,-7 31.1,-7 37.1,0 31.1,7 0,7"/><text x="4" y="3.8">col5</text></g>
<g transform="translate(604.3,646.1)"><polygon points="0,-7 31.1,-7 37.1,0 31.1,7 0,7"/><text x="4" y="3.8">col6</text></g>
<g transform="translate(604.3,660.5)"><polygon points="0,-7 31.1,-7 37.1,0 31.1,7 0,7"/><text x="4" y="3.8">col7</text></g>
<g transform="translate(980,559.6)"><polygon points="0,-7 30.6,-7 36.6,0 30.6,7 0,7"/><text x="4" y="3.8">col8</text></g>
<g transform="translate(980,574)"><polygon points="0,-7 30.6,-7 36.6,0 30.6,7 0,7"/><text x="4" y="3.8">col9</text></g>
<g transform="translate(972.6,588.4)"><polygon points="0,-7 38,-7 44,0 38,7 0,7"/><text x="4" y="3.8">col10</text></g>
<g transform="translate(972.6,602.8)"><polygon points="0,-7 38,-7 44,0 38,7 0,7"/><text x="4" y="3.8">col11</text></g>
<g transform="translate(972.6,617.3)"><polygon points="0,-7 38,-7 44,0 38,7 0,7"/><text x="4" y="3.8">col12</text></g>
<g transform="translate(972.6,631.7)"><polygon points="0,-7 38,-7 44,0 38,7 0,7"/><text x="4" y="3.8">col13</text></g>
<g transform="translate(972.6,646.1)"><polygon points="0,-7 38,-7 44,0 38,7 0,7"/><text x="4" y="3.8">col14</text></g>
<g transform="translate(972.6,660.5)"><polygon points="0,-7 38,-7 44,0 38,7 0,7"/><text x="4" y="3.8">col15</text></g>
<g transform="translate(688.7,884.5)"><polygon points="0,-7 48,-7 54,0 48,7 0,7"/><text x="5" y="3.8">COL_CS</text></g>
<g transform="translate(678.9,906)"><polygon points="0,-7 57.9,-7 63.9,0 57.9,7 0,7"/><text x="5" y="3.8">SPI1_CLK</text></g>
<g transform="translate(660.5,927.8)"><polygon points="0,-7 76.3,-7 82.3,0 76.3,7 0,7"/><text x="5" y="3.8">COL_CS_MOS</text></g>
<g transform="translate(670.4,949.8)"><polygon points="0,-7 66.4,-7 72.4,0 66.4,7 0,7"/><text x="5" y="3.8">COL_LATCH</text></g>
</g>
<!-- COL_JOIN1 / COL_JOIN2 -->
<path class="r" d="M1313.3,927.8H1339.4M1313.3,942.4H1339.4M1342,924.8Q1338.5,927.8 1342,930.8M1342,939.4Q1338.5,942.4 1342,945.4
M829.4,957.7V982.7M843.6,957.7V982.7M826.4,986Q829.4,982 832.4,986M840.6,986Q843.6,982 846.6,986"/>
<text class="n" x="1321" y="925">1</text><text class="n" x="1321" y="940">2</text>
<text class="t" x="1350.3" y="931.5">COL_JOIN1</text>
<text class="t" x="1350.3" y="946">Conn_01x02_Socket</text>
<text class="n" transform="rotate(-90 827 972)" x="827" y="972">2</text><text class="n" transform="rotate(-90 841 972)" x="841" y="972">1</text>
<text class="t" x="852.5" y="978">COL_JOIN2</text>
<text class="t" x="852.5" y="992.5">Conn_01x02_Socket</text>

<!-- ===== Breakouts ===== -->
<text class="t" x="82.5" y="484" text-anchor="middle">ROW1</text>
<text class="t" x="29.5" y="498">Conn_01x08_Socket</text>
<text class="t" x="233.4" y="484" text-anchor="middle">COL1</text>
<text class="t" x="181" y="498">Conn_01x08_Socket</text>
<text class="t" x="82.5" y="629" text-anchor="middle">ROW2</text>
<text class="t" x="29.5" y="642.5">Conn_01x08_Socket</text>
<text class="t" x="233.4" y="629" text-anchor="middle">COL2</text>
<text class="t" x="181" y="642.5">Conn_01x08_Socket</text>
<path class="r" d="M79,506.6Q82.5,509.6 79,512.6M82,509.6H106.9M79,521Q82.5,524 79,527M82,524H106.9M79,535.3Q82.5,538.3 79,541.3M82,538.3H106.9M79,549.7Q82.5,552.7 79,555.7M82,552.7H106.9M79,564.1Q82.5,567.1 79,570.1M82,567.1H106.9M79,578.4Q82.5,581.4 79,584.4M82,581.4H106.9M79,592.8Q82.5,595.8 79,598.8M82,595.8H106.9M79,607.2Q82.5,610.2 79,613.2M82,610.2H106.9
M79,650.3Q82.5,653.3 79,656.3M82,653.3H106.9M79,664.7Q82.5,667.7 79,670.7M82,667.7H106.9M79,679.1Q82.5,682.1 79,685.1M82,682.1H106.9M79,693.4Q82.5,696.4 79,699.4M82,696.4H106.9M79,707.8Q82.5,710.8 79,713.8M82,710.8H106.9M79,722.2Q82.5,725.2 79,728.2M82,725.2H106.9M79,736.6Q82.5,739.6 79,742.6M82,739.6H106.9M79,751Q82.5,754 79,757M82,754H106.9"/>
<path class="r" transform="translate(151.5,0)" d="M79,506.6Q82.5,509.6 79,512.6M82,509.6H107.7M79,521Q82.5,524 79,527M82,524H107.7M79,535.3Q82.5,538.3 79,541.3M82,538.3H107.7M79,549.7Q82.5,552.7 79,555.7M82,552.7H107.7M79,564.1Q82.5,567.1 79,570.1M82,567.1H107.7M79,578.4Q82.5,581.4 79,584.4M82,581.4H107.7M79,592.8Q82.5,595.8 79,598.8M82,595.8H107.7M79,607.2Q82.5,610.2 79,613.2M82,610.2H107.7
M79,650.3Q82.5,653.3 79,656.3M82,653.3H107.7M79,664.7Q82.5,667.7 79,670.7M82,667.7H107.7M79,679.1Q82.5,682.1 79,685.1M82,682.1H107.7M79,693.4Q82.5,696.4 79,699.4M82,696.4H107.7M79,707.8Q82.5,710.8 79,713.8M82,710.8H107.7M79,722.2Q82.5,725.2 79,728.2M82,725.2H107.7M79,736.6Q82.5,739.6 79,742.6M82,739.6H107.7M79,751Q82.5,754 79,757M82,754H107.7"/>
<path class="w" d="M106.9,509.6H129.8M106.9,524H129.8M106.9,538.3H129.8M106.9,552.7H129.8M106.9,567.1H129.8M106.9,581.4H129.8M106.9,595.8H129.8M106.9,610.2H129.8M106.9,653.3H129.8M106.9,667.7H129.8M106.9,682.1H129.8M106.9,696.4H129.8M106.9,710.8H129.8M106.9,725.2H129.8M106.9,739.6H129.8M106.9,754H129.8
M259.2,509.6H281.4M259.2,524H281.4M259.2,538.3H281.4M259.2,552.7H281.4M259.2,567.1H281.4M259.2,581.4H281.4M259.2,595.8H281.4M259.2,610.2H281.4M259.2,653.3H281.4M259.2,667.7H281.4M259.2,682.1H281.4M259.2,696.4H281.4M259.2,710.8H281.4M259.2,725.2H281.4M259.2,739.6H281.4M259.2,754H281.4"/>
<g class="n" font-size="10" text-anchor="middle">
<text x="96.4" y="507">8</text><text x="96.4" y="521.4">7</text><text x="96.4" y="535.7">6</text><text x="96.4" y="550.1">5</text><text x="96.4" y="564.5">4</text><text x="96.4" y="578.8">3</text><text x="96.4" y="593.2">2</text><text x="96.4" y="607.6">1</text>
<text x="96.4" y="650.7">8</text><text x="96.4" y="665.1">7</text><text x="96.4" y="679.5">6</text><text x="96.4" y="693.8">5</text><text x="96.4" y="708.2">4</text><text x="96.4" y="722.6">3</text><text x="96.4" y="737">2</text><text x="96.4" y="751.4">1</text>
<text x="248.3" y="507">8</text><text x="248.3" y="521.4">7</text><text x="248.3" y="535.7">6</text><text x="248.3" y="550.1">5</text><text x="248.3" y="564.5">4</text><text x="248.3" y="578.8">3</text><text x="248.3" y="593.2">2</text><text x="248.3" y="607.6">1</text>
<text x="248.3" y="650.7">8</text><text x="248.3" y="665.1">7</text><text x="248.3" y="679.5">6</text><text x="248.3" y="693.8">5</text><text x="248.3" y="708.2">4</text><text x="248.3" y="722.6">3</text><text x="248.3" y="737">2</text><text x="248.3" y="751.4">1</text>
</g>
<g class="f">
<g transform="translate(129.8,509.6)"><polygon points="0,0 6,-7 38.6,-7 38.6,7 6,7"/><text x="8" y="3.8">row0</text></g>
<g transform="translate(129.8,524)"><polygon points="0,0 6,-7 38.6,-7 38.6,7 6,7"/><text x="8" y="3.8">row1</text></g>
<g transform="translate(129.8,538.3)"><polygon points="0,0 6,-7 38.6,-7 38.6,7 6,7"/><text x="8" y="3.8">row2</text></g>
<g transform="translate(129.8,552.7)"><polygon points="0,0 6,-7 38.6,-7 38.6,7 6,7"/><text x="8" y="3.8">row3</text></g>
<g transform="translate(129.8,567.1)"><polygon points="0,0 6,-7 38.6,-7 38.6,7 6,7"/><text x="8" y="3.8">row4</text></g>
<g transform="translate(129.8,581.4)"><polygon points="0,0 6,-7 38.6,-7 38.6,7 6,7"/><text x="8" y="3.8">row5</text></g>
<g transform="translate(129.8,595.8)"><polygon points="0,0 6,-7 38.6,-7 38.6,7 6,7"/><text x="8" y="3.8">row6</text></g>
<g transform="translate(129.8,610.2)"><polygon points="0,0 6,-7 38.6,-7 38.6,7 6,7"/><text x="8" y="3.8">row7</text></g>
<g transform="translate(129.8,653.3)"><polygon points="0,0 6,-7 45.8,-7 45.8,7 6,7"/><text x="8" y="3.8">row15</text></g>
<g transform="translate(129.8,667.7)"><polygon points="0,0 6,-7 45.8,-7 45.8,7 6,7"/><text x="8" y="3.8">row14</text></g>
<g transform="translate(129.8,682.1)"><polygon points="0,0 6,-7 45.8,-7 45.8,7 6,7"/><text x="8" y="3.8">row13</text></g>
<g transform="translate(129.8,696.4)"><polygon points="0,0 6,-7 45.8,-7 45.8,7 6,7"/><text x="8" y="3.8">row12</text></g>
<g transform="translate(129.8,710.8)"><polygon points="0,0 6,-7 45.8,-7 45.8,7 6,7"/><text x="8" y="3.8">row11</text></g>
<g transform="translate(129.8,725.2)"><polygon points="0,0 6,-7 45.8,-7 45.8,7 6,7"/><text x="8" y="3.8">row10</text></g>
<g transform="translate(129.8,739.6)"><polygon points="0,0 6,-7 38.6,-7 38.6,7 6,7"/><text x="8" y="3.8">row9</text></g>
<g transform="translate(129.8,754)"><polygon points="0,0 6,-7 38.6,-7 38.6,7 6,7"/><text x="8" y="3.8">row8</text></g>
<g transform="translate(281.4,509.6)"><polygon points="0,0 6,-7 37.1,-7 37.1,7 6,7"/><text x="8" y="3.8">col0</text></g>
<g transform="translate(281.4,524)"><polygon points="0,0 6,-7 37.1,-7 37.1,7 6,7"/><text x="8" y="3.8">col1</text></g>
<g transform="translate(281.4,538.3)"><polygon points="0,0 6,-7 37.1,-7 37.1,7 6,7"/><text x="8" y="3.8">col2</text></g>
<g transform="translate(281.4,552.7)"><polygon points="0,0 6,-7 37.1,-7 37.1,7 6,7"/><text x="8" y="3.8">col3</text></g>
<g transform="translate(281.4,567.1)"><polygon points="0,0 6,-7 37.1,-7 37.1,7 6,7"/><text x="8" y="3.8">col4</text></g>
<g transform="translate(281.4,581.4)"><polygon points="0,0 6,-7 37.1,-7 37.1,7 6,7"/><text x="8" y="3.8">col5</text></g>
<g transform="translate(281.4,595.8)"><polygon points="0,0 6,-7 37.1,-7 37.1,7 6,7"/><text x="8" y="3.8">col6</text></g>
<g transform="translate(281.4,610.2)"><polygon points="0,0 6,-7 37.1,-7 37.1,7 6,7"/><text x="8" y="3.8">col7</text></g>
<g transform="translate(281.4,653.3)"><polygon points="0,0 6,-7 43.2,-7 43.2,7 6,7"/><text x="8" y="3.8">col15</text></g>
<g transform="translate(281.4,667.7)"><polygon points="0,0 6,-7 43.2,-7 43.2,7 6,7"/><text x="8" y="3.8">col14</text></g>
<g transform="translate(281.4,682.1)"><polygon points="0,0 6,-7 43.2,-7 43.2,7 6,7"/><text x="8" y="3.8">col13</text></g>
<g transform="translate(281.4,696.4)"><polygon points="0,0 6,-7 43.2,-7 43.2,7 6,7"/><text x="8" y="3.8">col12</text></g>
<g transform="translate(281.4,710.8)"><polygon points="0,0 6,-7 43.2,-7 43.2,7 6,7"/><text x="8" y="3.8">col11</text></g>
<g transform="translate(281.4,725.2)"><polygon points="0,0 6,-7 43.2,-7 43.2,7 6,7"/><text x="8" y="3.8">col10</text></g>
<g transform="translate(281.4,739.6)"><polygon points="0,0 6,-7 37.1,-7 37.1,7 6,7"/><text x="8" y="3.8">col9</text></g>
<g transform="translate(281.4,754)"><polygon points="0,0 6,-7 37.1,-7 37.1,7 6,7"/><text x="8" y="3.8">col8</text></g>
</g>

<!-- ===== Mosfet ===== -->
<text class="t" x="468.4" y="723" text-anchor="middle">+3V3</text>
<path class="r" d="M464.2,740.6L468.4,734L472.6,740.6M468.4,734V746M468.4,757V769.4M468.4,798V808M468.4,830V845.8H453.7M468.4,840.3H482.5V870H468.4M453.7,866H468.4M468.4,856V913M461.4,913H475.4L468.4,920.6Z
M451.1,842.5V868.3M453.7,842V849M453.7,852.5V859M453.7,862V869M430,855.8H451.1M453.7,855.8H468.4M478.5,851.6H486.5"/>
<path class="w" d="M468.4,746V757M468.4,808V830M468.4,819.8H497.4M410,855.8H430M468.4,884V913"/>
<rect class="b" x="462.9" y="769.4" width="11.1" height="28.6"/>
<polygon points="456,855.8 462,852.5 462,859.1" fill="#ffffc2" stroke="#840000" stroke-width="1"/>
<polygon points="478.5,858.5 486.5,858.5 482.5,851.6" fill="#ffffc2" stroke="#840000" stroke-width="1"/>
<circle class="j" cx="468.4" cy="819.8" r="2.3"/>
<text class="t" x="484.7" y="780.5">R1</text>
<text class="t" x="484.7" y="794.5">1206W4F1002T5E</text>
<text class="t" x="498.9" y="852">COL_CS_MOS1</text>
<text class="t" x="498.9" y="866.5">2N7002</text>
<text class="t" x="468.4" y="939" text-anchor="middle">GND</text>
<g class="n"><text transform="rotate(-90 466 764)" x="466" y="764">2</text><text transform="rotate(-90 466 808)" x="466" y="808">1</text><text transform="rotate(-90 466 837)" x="466" y="837">3</text><text transform="rotate(-90 466 880)" x="466" y="880">2</text><text x="429" y="853">1</text></g>
<g class="f">
<g transform="translate(356.2,855.8)"><polygon points="0,-7 47.8,-7 53.8,0 47.8,7 0,7"/><text x="5" y="3.8">COL_CS</text></g>
<g transform="translate(497.4,819.8)"><polygon points="0,-7 76.2,-7 82.2,0 76.2,7 0,7"/><text x="5" y="3.8">COL_CS_MOS</text></g>
</g>
</svg>
</body></html>
